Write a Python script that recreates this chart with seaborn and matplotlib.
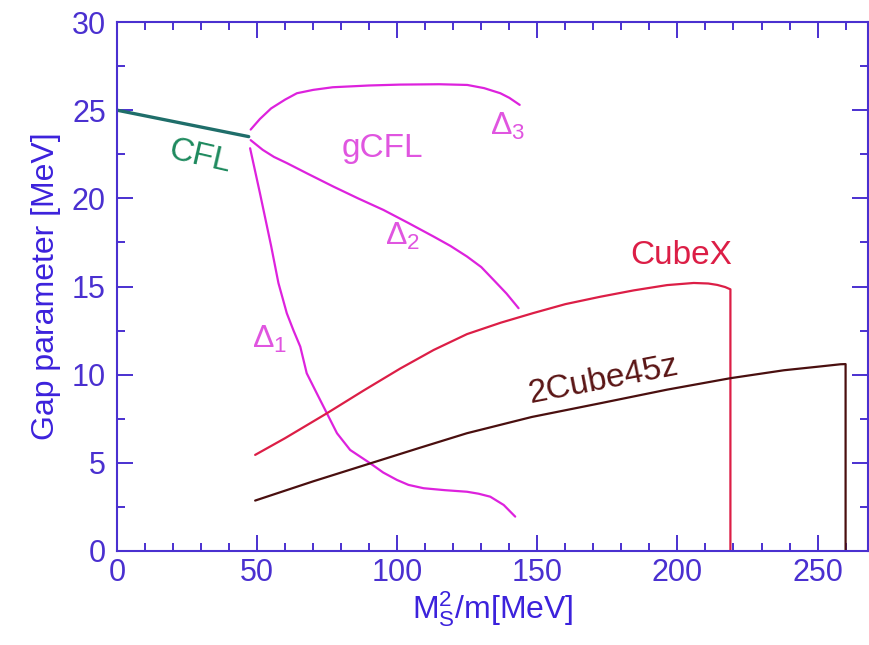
import numpy as np
import pandas as pd
import seaborn as sns
import matplotlib
matplotlib.use("Agg")
import matplotlib.pyplot as plt
from matplotlib.ticker import MultipleLocator

# Gap parameter curves (x: M_s^2/m in MeV, y: gap in MeV)
cfl_x = [0.0, 47.0]
cfl_y = [25.0, 23.5]

d3_x = [47.7, 51.0, 55.0, 60.0, 64.2, 70.0, 77.0, 90.0, 101.0, 115.0, 125.0, 131.0, 136.8, 140.0, 143.7]
d3_y = [23.9, 24.5, 25.1, 25.6, 25.96, 26.15, 26.3, 26.4, 26.45, 26.47, 26.43, 26.25, 25.96, 25.7, 25.3]

d2_x = [47.7, 52.0, 56.0, 60.6, 68.0, 77.3, 86.0, 95.1, 104.0, 113.0, 119.0, 124.9, 130.0, 134.4, 139.0, 143.3]
d2_y = [23.3, 22.75, 22.35, 22.0, 21.4, 20.66, 20.0, 19.34, 18.6, 17.83, 17.3, 16.7, 16.1, 15.37, 14.6, 13.77]

d1_x = [47.5, 51.0, 55.0, 57.6, 60.6, 63.0, 65.4, 67.7, 71.3, 74.9, 78.5, 83.2, 90.4, 95.0,
        99.9, 104.0, 109.4, 117.0, 124.9, 129.0, 133.2, 138.0, 142.1]
d1_y = [22.84, 20.3, 17.3, 15.2, 13.48, 12.5, 11.59, 10.08, 8.94, 7.81, 6.68, 5.73, 4.97, 4.45,
        4.03, 3.75, 3.56, 3.45, 3.36, 3.25, 3.08, 2.61, 1.95]

cubex_x = [49.3, 60.0, 74.9, 88.0, 101.1, 113.0, 124.9, 137.0, 148.7, 160.0, 172.5, 184.4,
           196.3, 205.8, 211.0, 214.2, 217.0, 218.9, 218.9]
cubex_y = [5.45, 6.4, 7.81, 9.1, 10.35, 11.4, 12.3, 12.95, 13.5, 14.0, 14.42, 14.78,
           15.08, 15.2, 15.17, 15.09, 14.97, 14.84, 0.0]

cube45_x = [49.3, 70.0, 90.4, 108.0, 124.9, 148.0, 172.5, 196.3, 218.9, 238.0, 250.0, 258.2, 260.0, 260.0]
cube45_y = [2.86, 3.95, 4.97, 5.85, 6.68, 7.6, 8.38, 9.15, 9.8, 10.25, 10.45, 10.59, 10.6, 0.0]

AXIS_COLOR = "#4a30d0"
LABEL_COLOR = "#3c22dc"
MAGENTA = "#dd22dd"
MAGENTA_TXT = "#e055e0"
CFL_LINE = "#1f6e6a"
CFL_TXT = "#1e8a5e"
CUBEX = "#dc1e46"
CUBE45 = "#4a0f0f"

sns.set_style("ticks")
plt.rcParams["font.family"] = ["Liberation Sans", "DejaVu Sans"]
plt.rcParams["mathtext.default"] = "regular"

fig = plt.figure(figsize=(8.7, 6.45), dpi=100)
ax = fig.add_axes([117 / 870, 1 - 551 / 645, (868 - 117) / 870, (551 - 22) / 645])

curves = [
    (cfl_x, cfl_y, CFL_LINE, 2.4),
    (d3_x, d3_y, MAGENTA, 1.6),
    (d2_x, d2_y, MAGENTA, 1.6),
    (d1_x, d1_y, MAGENTA, 1.6),
    (cubex_x, cubex_y, CUBEX, 1.6),
    (cube45_x, cube45_y, CUBE45, 1.6),
]
for xs, ys, col, lw in curves:
    df = pd.DataFrame({"x": xs, "y": ys})
    sns.lineplot(data=df, x="x", y="y", sort=False, estimator=None,
                 color=col, linewidth=lw, ax=ax)
for line in ax.lines:
    line.set_solid_joinstyle("round")

ax.set_xlim(0, 268)
ax.set_ylim(0, 30)
ax.xaxis.set_major_locator(MultipleLocator(50))
ax.xaxis.set_minor_locator(MultipleLocator(10))
ax.yaxis.set_major_locator(MultipleLocator(5))
ax.yaxis.set_minor_locator(MultipleLocator(2.5))
ax.tick_params(which="both", direction="in", top=True, right=True,
               color=AXIS_COLOR, labelcolor=AXIS_COLOR, width=1.4)
ax.tick_params(which="major", length=11.5, labelsize=22)
ax.tick_params(which="minor", length=5.8)
ax.tick_params(axis="y", which="major", pad=8)
ax.tick_params(axis="x", which="major", pad=5)
for sp in ax.spines.values():
    sp.set_visible(True)
    sp.set_color(AXIS_COLOR)
    sp.set_linewidth(1.5)

ax.set_xlabel("M$_S^2$/m[MeV]", fontsize=23, color=LABEL_COLOR, labelpad=1)
ax.set_ylabel("Gap parameter [MeV]", fontsize=23, color=LABEL_COLOR, labelpad=8)

# Phase labels
ax.text(29.6, 22.37, "CFL", color=CFL_TXT, fontsize=24, rotation=-13,
        ha="center", va="center", rotation_mode="anchor")
ax.text(80.2, 22.37, "gCFL", color=MAGENTA_TXT, fontsize=24, ha="left", va="baseline")
ax.text(133.2, 23.6, "Δ$_3$", color=MAGENTA_TXT, fontsize=23, ha="left", va="baseline")
ax.text(95.7, 17.36, "Δ$_2$", color=MAGENTA_TXT, fontsize=23, ha="left", va="baseline")
ax.text(48.1, 11.5, "Δ$_1$", color=MAGENTA_TXT, fontsize=23, ha="left", va="baseline")
ax.text(183.2, 16.26, "CubeX", color=CUBEX, fontsize=24, ha="left", va="baseline")
ax.text(173.6, 9.7, "2Cube45z", color="#5a1515", fontsize=24, rotation=11,
        ha="center", va="center", rotation_mode="anchor")

fig.savefig("out.png", dpi=100)
